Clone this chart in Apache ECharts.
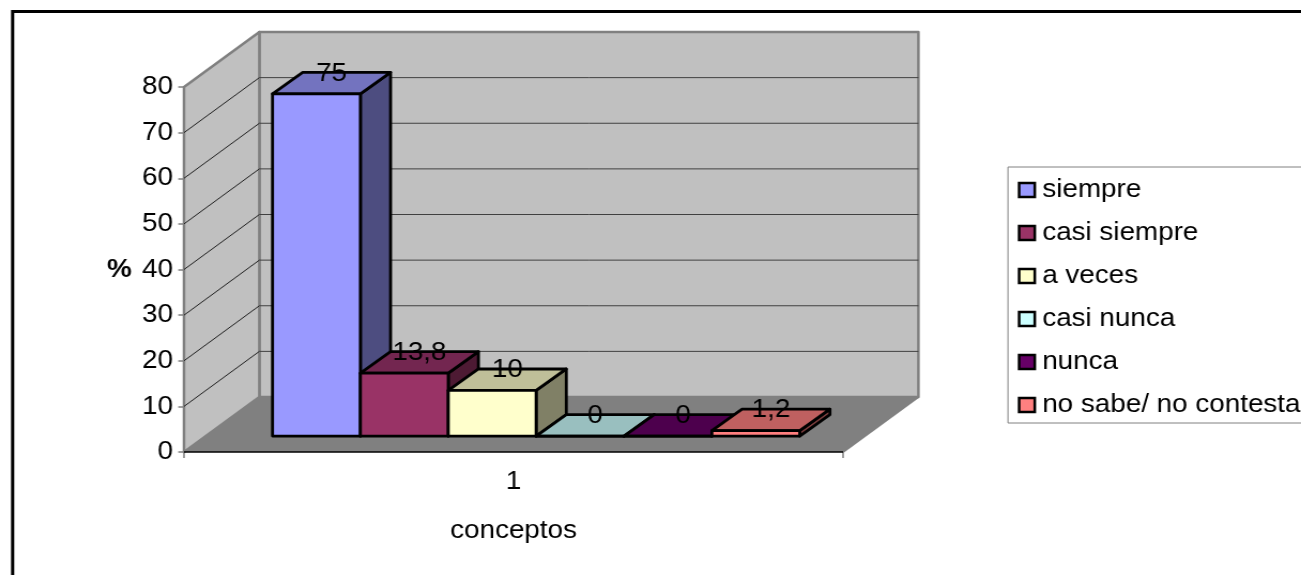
<!DOCTYPE html>
<html>
<head>
<meta charset="utf-8">
<style>
  html, body { margin: 0; padding: 0; background: #fff; overflow: hidden; }
  /* The sheet is laid out a little narrower and widened, which gives the wide lettering */
  #chart { width: 1216px; height: 575px; transform: scaleX(1.0699); transform-origin: 0 0; }
</style>
<script src="https://cdn.jsdelivr.net/npm/echarts@6/dist/echarts.min.js"></script>
</head>
<body>
<div id="chart"></div>
<script>
const categories = ['1'];
const seriesNames = ['siempre', 'casi siempre', 'a veces', 'casi nunca', 'nunca', 'no sabe/ no contesta'];
const seriesValues = [75, 13.8, 10, 0, 0, 1.2];
const seriesColors = ['#9999FF', '#993366', '#FFFFCC', '#CCFFFF', '#660066', '#FF8080'];
const topColors = ['#7373BF', '#732650', '#BFBF99', '#99BFBF', '#4D004D', '#BF6060'];
const sideColors = ['#4D4D80', '#4D1A33', '#808066', '#668080', '#330033', '#804040'];
const yTicks = [0, 10, 20, 30, 40, 50, 60, 70, 80];
const yMax = 80;
const xName = 'conceptos';
const yName = '%';

// Oblique projection of the chart box, in layout pixels
const DEPTH_X = 70.4;
const DEPTH_Y = 55;
const BAR_FRONT_X = 0.30;   // front of the bars along x, as a share of DEPTH_X
const BAR_FRONT_Y = 0.29;   // front of the bars along y, as a share of DEPTH_Y
const BAR_DEPTH_X = 0.4;    // bar depth along x, as a share of DEPTH_X
const BAR_DEPTH_Y = 0.39;   // bar depth along y, as a share of DEPTH_Y
const GAP_RATIO = 0.75;     // side gap, in bar widths
const FONT = '"Liberation Sans", Arial, sans-serif';
const TEXT_SIZE = 26;

function poly(points, fill, stroke, lineWidth) {
  return {
    type: 'polygon',
    shape: { points },
    style: { fill, stroke: stroke || null, lineWidth: lineWidth || 0, lineJoin: 'round' }
  };
}

function line(a, b, stroke, lineWidth) {
  return {
    type: 'line',
    shape: { x1: a[0], y1: a[1], x2: b[0], y2: b[1] },
    style: { stroke, lineWidth }
  };
}

// Back wall, side wall, floor and their gridlines
function renderWalls(params, api) {
  const band = api.size([1, 0])[0];
  const cx = api.coord([0, 0])[0];
  const x0 = cx - band / 2;
  const x1 = cx + band / 2;
  const y0 = api.coord([0, 0])[1];
  const yTop = api.coord([0, yMax])[1];
  const edge = '#808080';
  const children = [
    poly([[x0, y0], [x1, y0], [x1 + DEPTH_X, y0 - DEPTH_Y], [x0 + DEPTH_X, y0 - DEPTH_Y]], '#808080'),
    poly([[x0 + DEPTH_X, yTop - DEPTH_Y], [x1 + DEPTH_X, yTop - DEPTH_Y], [x1 + DEPTH_X, y0 - DEPTH_Y], [x0 + DEPTH_X, y0 - DEPTH_Y]], '#C0C0C0', edge, 2.5),
    poly([[x0, y0], [x0, yTop], [x0 + DEPTH_X, yTop - DEPTH_Y], [x0 + DEPTH_X, y0 - DEPTH_Y]], '#C0C0C0', edge, 2.5)
  ];
  yTicks.forEach(function (t) {
    if (t === 0 || t === yMax) return;
    const y = api.coord([0, t])[1];
    children.push(line([x0, y], [x0 + DEPTH_X, y - DEPTH_Y], '#202020', 1));
    children.push(line([x0 + DEPTH_X, y - DEPTH_Y], [x1 + DEPTH_X, y - DEPTH_Y], '#404040', 1));
  });
  children.push(line([x1, y0], [x1 + DEPTH_X, y0 - DEPTH_Y], edge, 2));
  children.push(line([x0, y0], [x1, y0], '#000000', 1.5));
  return { type: 'group', children };
}

// One 3D column: front face, side face, top face and the value label
function renderBar(params, api) {
  const i = params.seriesIndex - 1;
  const band = api.size([1, 0])[0];
  const left = api.coord([api.value(0), 0])[0] - band / 2;
  const barW = band / (seriesValues.length + 2 * GAP_RATIO);
  const fx = BAR_FRONT_X * DEPTH_X;
  const fy = BAR_FRONT_Y * DEPTH_Y;
  const dx = BAR_DEPTH_X * DEPTH_X;
  const dy = BAR_DEPTH_Y * DEPTH_Y;
  const xa = left + fx + (GAP_RATIO + i) * barW;
  const xb = xa + barW;
  const yb = api.coord([0, 0])[1] - fy;
  const yt = api.coord([0, api.value(1)])[1] - fy;
  const black = '#000000';
  const w = 2.8;
  return {
    type: 'group',
    children: [
      poly([[xb, yb], [xb, yt], [xb + dx, yt - dy], [xb + dx, yb - dy]], sideColors[i], black, w),
      poly([[xa, yt], [xb, yt], [xb + dx, yt - dy], [xa + dx, yt - dy]], topColors[i], black, w),
      poly([[xa, yb], [xb, yb], [xb, yt], [xa, yt]], seriesColors[i], black, w),
      {
        type: 'text',
        x: (xa + xb) / 2 + dx / 2,
        y: yt - dy + 1,
        z2: 10,
        style: {
          text: String(api.value(1)).replace('.', ','),
          fill: '#000000',
          font: TEXT_SIZE + 'px ' + FONT,
          textAlign: 'center',
          textVerticalAlign: 'middle'
        }
      }
    ]
  };
}

const barSeries = seriesNames.map(function (name, i) {
  return {
    type: 'custom',
    name,
    renderItem: renderBar,
    itemStyle: { color: seriesColors[i] },
    encode: { x: 0, y: 1 },
    data: [[0, seriesValues[i]]],
    animation: false
  };
});

const chart = echarts.init(document.getElementById('chart'), null, { renderer: 'canvas' });
chart.setOption({
  animation: false,
  backgroundColor: '#ffffff',
  textStyle: { fontFamily: FONT },
  graphic: [{
    type: 'rect',
    shape: { x: 11.8, y: 11.4, width: 1400, height: 800 },
    style: { fill: null, stroke: '#000000', lineWidth: 3 },
    silent: true
  }],
  grid: { left: 172, top: 87, width: 616, height: 365, containLabel: false },
  legend: {
    orient: 'vertical',
    left: 942.1,
    top: 167,
    padding: [10, 65, 5, 9.2],
    itemGap: 17,
    itemWidth: 14.6,
    itemHeight: 14,
    icon: 'rect',
    borderColor: '#808080',
    borderWidth: 1,
    backgroundColor: '#ffffff',
    selectedMode: false,
    textStyle: { fontFamily: FONT, fontSize: TEXT_SIZE, color: '#000000', padding: [2, 0, 0, 2] },
    itemStyle: { borderColor: '#000000', borderWidth: 2.5 },
    data: seriesNames
  },
  xAxis: {
    type: 'category',
    data: categories,
    boundaryGap: true,
    name: xName,
    nameLocation: 'middle',
    nameGap: 66,
    nameTextStyle: { fontFamily: FONT, fontSize: TEXT_SIZE, color: '#000000' },
    axisLine: { show: false },
    axisTick: { show: true, alignWithLabel: false, length: 6, lineStyle: { color: '#808080', width: 1.5 } },
    axisLabel: { margin: 17, fontFamily: FONT, fontSize: TEXT_SIZE, color: '#000000' },
    splitLine: { show: false }
  },
  yAxis: {
    type: 'value',
    min: 0,
    max: yMax,
    interval: 10,
    name: yName,
    nameLocation: 'middle',
    nameRotate: 0,
    nameGap: 48.8,
    nameTextStyle: { fontFamily: FONT, fontSize: TEXT_SIZE, fontWeight: 'bold', color: '#000000' },
    axisLine: { show: true, lineStyle: { color: '#808080', width: 2 } },
    axisTick: { show: true, length: 5.4, lineStyle: { color: '#808080', width: 1.5 } },
    axisLabel: { margin: 10.3, fontFamily: FONT, fontSize: TEXT_SIZE, color: '#000000', padding: [7, 0, 0, 0] },
    splitLine: { show: false }
  },
  series: [{
    type: 'custom',
    name: 'paredes',
    silent: true,
    renderItem: renderWalls,
    encode: { x: 0, y: 1 },
    data: [[0, 0]],
    animation: false
  }].concat(barSeries)
});
</script>
</body>
</html>
